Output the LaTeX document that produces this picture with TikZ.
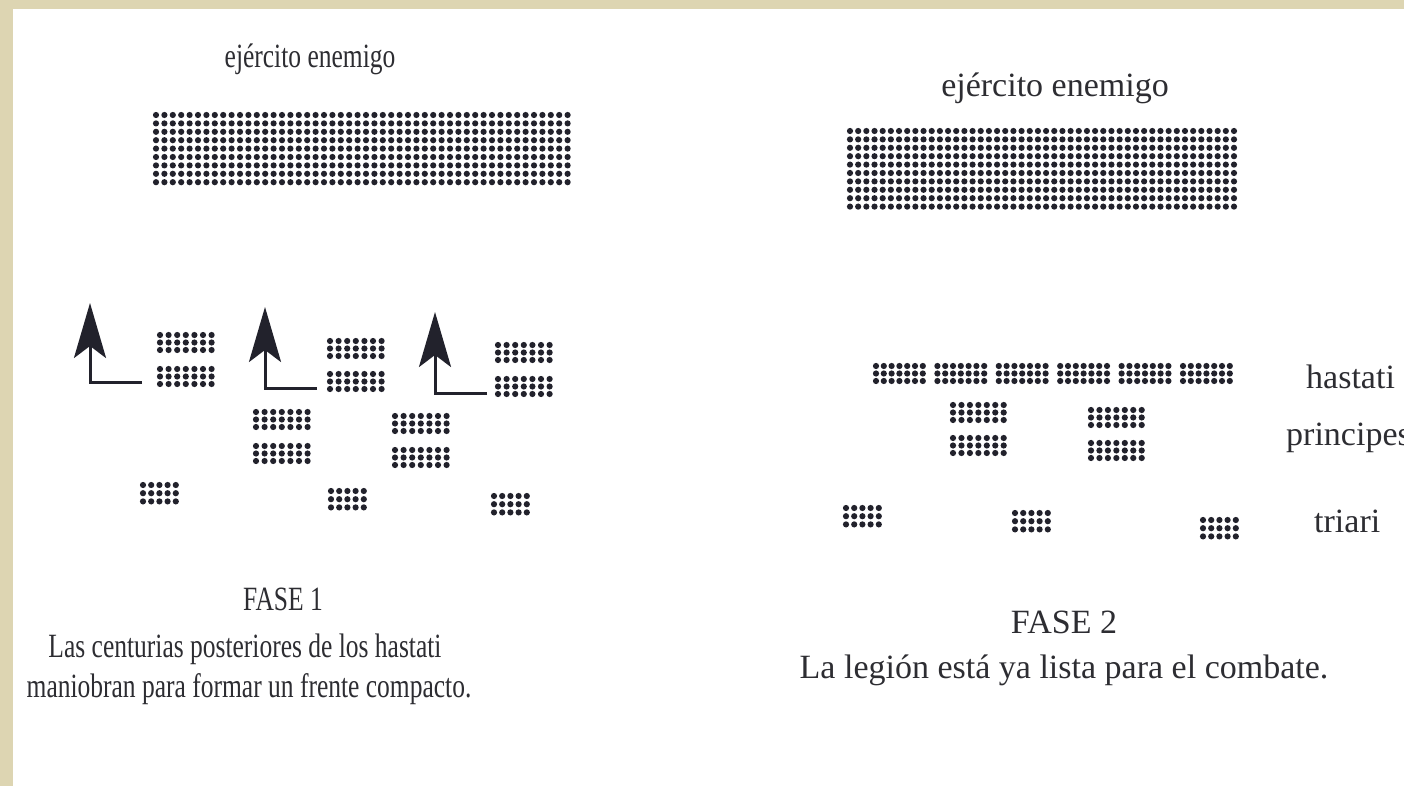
\documentclass[tikz,border=0pt]{standalone}
\usepackage{fontspec}
\setmainfont{Liberation Serif}
\usepackage{graphicx}
\usepackage{tikz}
\usetikzlibrary{arrows.meta, positioning, calc}
\definecolor{Marco}{RGB}{221,213,178}
\definecolor{Tinta}{RGB}{34,34,44}
\definecolor{Letra}{RGB}{45,45,50}

% bloque de soldados: x, y (primer punto), columnas, filas, paso x, paso y
\newcommand{\tropa}[6]{%
	\foreach \c in {1,...,#3}{\foreach \r in {1,...,#4}{%
		\fill[soldado] ({#1+(\c-1)*#5},{#2+(\r-1)*#6}) circle[radius=3.1pt];}}}
\newcommand{\estrecho}[1]{\scalebox{0.75}[1]{#1}}

\begin{document}
\begin{tikzpicture}[x=1pt, y=-1pt,
	soldado/.style={fill=Tinta},
	texto/.style={anchor=base, text=Letra, inner sep=0pt,
		font=\fontsize{34}{40}\selectfont},
	giro/.style={line width=3pt, Tinta,
		-{Stealth[length=55pt, width=32pt, inset=12pt]}}]

	\useasboundingbox (0,0) rectangle (1404,786);
	\fill[Marco] (0,0) rectangle (1404,786);
	\fill[white] (13,9) rectangle (1404,786);

	% FASE 1
	\node[texto] (ene1) at (310,68) {\estrecho{ejército enemigo}};
	\tropa{156}{115}{50}{9}{8.4}{8.4}

	\coordinate (g1) at (90,382);
	\coordinate (g2) at (265,388);
	\coordinate (g3) at (435,393);
	\draw[giro] ($(g1)+(52,0)$) -- (g1) -- ++(0,-79);
	\draw[giro] ($(g2)+(52,0)$) -- (g2) -- ++(0,-81);
	\draw[giro] ($(g3)+(52,0)$) -- (g3) -- ++(0,-81);

	\tropa{160}{335}{7}{3}{8.6}{7.5}
	\tropa{160}{369}{7}{3}{8.6}{7.5}
	\tropa{330}{341}{7}{3}{8.6}{7.5}
	\tropa{330}{374}{7}{3}{8.6}{7.5}
	\tropa{498}{345}{7}{3}{8.6}{7.5}
	\tropa{498}{379}{7}{3}{8.6}{7.5}

	\tropa{256}{412}{7}{3}{8.6}{7.5}
	\tropa{256}{446}{7}{3}{8.6}{7.5}
	\tropa{395}{416}{7}{3}{8.6}{7.5}
	\tropa{395}{450}{7}{3}{8.6}{7.5}

	\tropa{143}{485}{5}{3}{8.2}{8.2}
	\tropa{331}{491}{5}{3}{8.2}{8.2}
	\tropa{494}{496}{5}{3}{8.2}{8.2}

	\node[texto] (f1) at (283,610) {\estrecho{FASE 1}};
	\node[texto] (c1a) at (245,657)
		{\estrecho{Las centurias posteriores de los hastati}};
	\node[texto] (c1b) at (249,697)
		{\estrecho{maniobran para formar un frente compacto.}};

	% FASE 2
	\node[texto] (ene2) at (1055,97) {ejército enemigo};
	\tropa{850}{131}{48}{10}{8.17}{8.4}

	\foreach \k in {0,...,5}{\tropa{876+\k*61.4}{366}{7}{3}{7.8}{7.5}}
	\tropa{953}{405}{7}{3}{8.45}{7.5}
	\tropa{953}{438}{7}{3}{8.45}{7.5}
	\tropa{1091}{410}{7}{3}{8.45}{7.5}
	\tropa{1091}{443}{7}{3}{8.45}{7.5}
	\tropa{846}{508}{5}{3}{8.2}{8.2}
	\tropa{1015}{513}{5}{3}{8.2}{8.2}
	\tropa{1203}{520}{5}{3}{8.2}{8.2}

	\node[texto, anchor=base west] (has) at (1306,388) {hastati};
	\node[texto, anchor=base west] (pri) at (1286,445) {principes};
	\node[texto, anchor=base west] (tri) at (1314,532) {triari};

	\node[texto] (f2) at (1064,633) {FASE 2};
	\node[texto] (c2) at (1064,678)
		{La legión está ya lista para el combate.};
\end{tikzpicture}
\end{document}
